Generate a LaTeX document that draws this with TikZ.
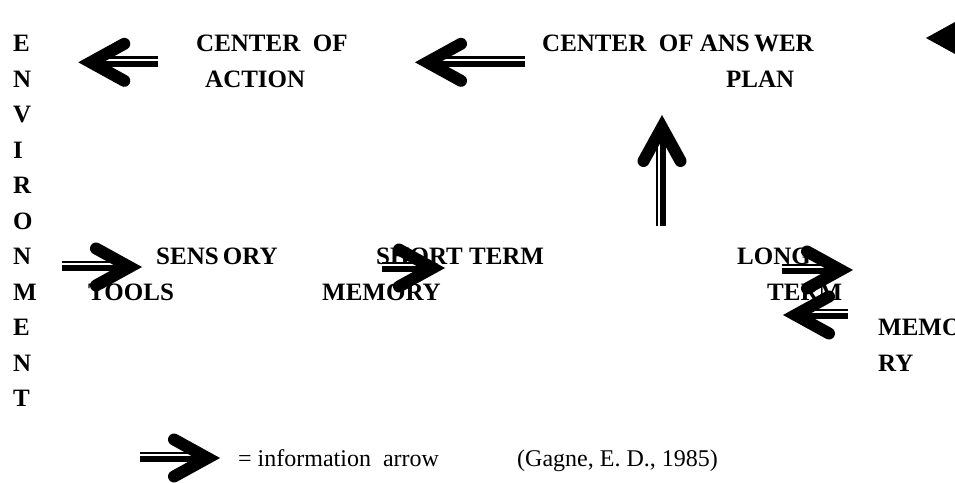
\documentclass[tikz,border=0pt]{standalone}
\usepackage{fontspec}
\setmainfont{Liberation Serif}
\begin{document}
\begin{tikzpicture}[x=1pt,y=-1pt,
  lbl/.style={font=\bfseries\fontsize{25}{25}\selectfont, anchor=base west, inner sep=0pt},
  txt/.style={font=\fontsize{24}{24}\selectfont, anchor=base west, inner sep=0pt},
  pics/infoarrow/.style={code={
    \fill[white] (-#1,-6.0) rectangle (-16,4.3);
    \fill[black] (-#1,-6.0) rectangle (-16,-3.6);
    \fill[black] (-#1,-1.7) rectangle (-16,4.3);
    \draw[black, line width=12pt, line cap=round, line join=miter]
      (-46,-18.5) -- (-12.4,0) -- (-46,18.5);
  }}]
\useasboundingbox (0,0) rectangle (955,482);
\fill[white] (0,0) rectangle (955,482);
\clip (0,0) rectangle (955,482);

% ENVIRONMENT column
\foreach \l [count=\k from 0] in {E,N,V,I,R,O,N,M,E,N,T}
  \node[lbl] (env\k) at (13,{51.5+35.5*\k}) {\l};

% labels
\node[lbl] (act1) at (196,51.5) {CENTER\ \ OF};
\node[lbl] (act2) at (205,87) {ACTION};
\node[lbl] (ans1) at (542,51.5) {CENTER\ \ OF ANS\,WER};
\node[lbl] (ans2) at (726,87) {PLAN};
\node[lbl] (sen1) at (156,264) {SENS\,ORY};
\node[lbl] (sen2) at (88,300) {TOOLS};
\node[lbl] (stm1) at (376,264) {SHORT TERM};
\node[lbl] (stm2) at (322,300) {MEMORY};
\node[lbl] (ltm1) at (737,264) {LONG};
\node[lbl] (ltm2) at (767,300) {TERM};
\node[lbl] (ltm3) at (878,335.5) {MEMO};
\node[lbl] (ltm4) at (878,371) {RY};
\node[txt] (leg) at (238,466) {= information\ \ arrow};
\node[txt] (src) at (517,466) {(Gagne, E. D., 1985)};

% arrow tips
\coordinate (tA) at (78.3,62.3);
\coordinate (tB) at (415,62.3);
\coordinate (tC) at (926,38);
\coordinate (tD) at (662,115);
\coordinate (tE) at (142,267);
\coordinate (tF) at (445,268);
\coordinate (tG) at (853,270);
\coordinate (tH) at (783,315);
\coordinate (tI) at (220,458);

\pic[xscale=-1] at (tA) {infoarrow=80};
\pic[xscale=-1] at (tB) {infoarrow=110};
\pic[xscale=-1] at (tC) {infoarrow=80};
\pic[rotate=90] at (tD) {infoarrow=111};
\pic at (tE) {infoarrow=80};
\pic at (tF) {infoarrow=63};
\pic at (tG) {infoarrow=71};
\pic[xscale=-1] at (tH) {infoarrow=65};
\pic at (tI) {infoarrow=80};
\end{tikzpicture}
\end{document}
